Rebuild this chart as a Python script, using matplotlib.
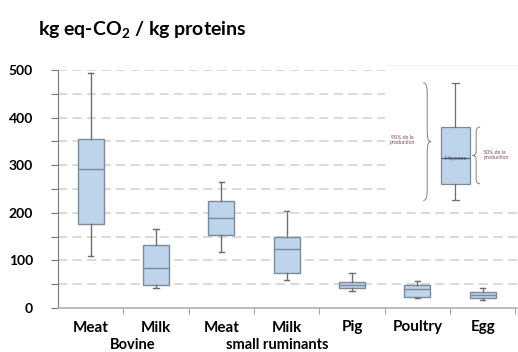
import numpy as np
import matplotlib
matplotlib.use("Agg")
import matplotlib.pyplot as plt
from matplotlib.path import Path
from matplotlib.patches import PathPatch, Rectangle

plt.rcParams['font.family'] = ['Lato', 'DejaVu Sans']
plt.rcParams['mathtext.fontset'] = 'custom'
plt.rcParams['mathtext.rm'] = 'Lato:bold'
plt.rcParams['mathtext.bf'] = 'Lato:bold'
plt.rcParams['mathtext.default'] = 'bf'

# ========================
# DATA (kg eq-CO2 / kg proteins)
# ========================
categories = ["Meat", "Milk", "Meat", "Milk", "Pig", "Poultry", "Egg"]
groups = ["Bovine", "small ruminants"]
whis_low = [110, 43, 117, 58, 36, 20, 16]
q1 = [176, 49, 154, 74, 43, 23, 21]
median = [293, 83, 189, 123, 48, 39, 28]
q3 = [355, 132, 225, 149, 54, 48, 34]
whis_high = [493, 167, 265, 203, 73, 57, 43]

# example box of the legend inset
legend_box = {"whislo": 226, "q1": 261, "med": 315, "q3": 380, "whishi": 473}

BOX_FACE = "#bdd4ea"
BOX_EDGE = "#7d8a99"
WHISKER = "#6e6e6e"
GRID = "#cfcfcf"


def brace(ax, x, y0, y1, width, facing="left", color="#808080"):
    """Curly brace between y0 and y1, tip pointing left or right."""
    s = -1 if facing == "left" else 1
    ym = (y0 + y1) / 2
    h = (y1 - y0)
    w = width
    verts = [
        (x + s * w, y0),
        (x, y0), (x, y0 + 0.05 * h), (x, y0 + 0.12 * h),
        (x, ym - 0.12 * h),
        (x, ym - 0.02 * h), (x - s * 0.2 * w, ym), (x - s * w, ym),
        (x - s * 0.2 * w, ym), (x, ym + 0.02 * h), (x, ym + 0.12 * h),
        (x, y1 - 0.12 * h),
        (x, y1 - 0.05 * h), (x, y1), (x + s * w, y1),
    ]
    codes = [Path.MOVETO,
             Path.CURVE4, Path.CURVE4, Path.CURVE4,
             Path.LINETO,
             Path.CURVE4, Path.CURVE4, Path.CURVE4,
             Path.CURVE4, Path.CURVE4, Path.CURVE4,
             Path.LINETO,
             Path.CURVE4, Path.CURVE4, Path.CURVE4]
    ax.add_patch(PathPatch(Path(verts, codes), fill=False, edgecolor=color,
                           lw=0.7, zorder=6, clip_on=False))


fig = plt.figure(figsize=(5.18, 3.52), dpi=100)
ax = fig.add_axes([58 / 518, 44 / 352, 460 / 518, 238 / 352])

stats = []
for i, cat in enumerate(categories):
    stats.append({"whislo": whis_low[i], "q1": q1[i], "med": median[i],
                  "q3": q3[i], "whishi": whis_high[i], "label": cat})

ax.bxp(stats, positions=np.arange(len(categories)), widths=0.4,
       showfliers=False, patch_artist=True,
       boxprops=dict(facecolor=BOX_FACE, edgecolor=BOX_EDGE, lw=1.0),
       medianprops=dict(color=BOX_EDGE, lw=1.0),
       whiskerprops=dict(color=WHISKER, lw=1.0),
       capprops=dict(color=WHISKER, lw=1.0), capwidths=0.08,
       zorder=5)

# axes / grid
ax.set_xlim(-0.5, 6.54)
ax.set_ylim(0, 500)
for y in np.arange(50, 501, 50):
    ax.axhline(y, color=GRID, lw=1.1, ls=(0, (6, 3.5)), zorder=1)

for side in ["top", "right"]:
    ax.spines[side].set_visible(False)
ax.spines["left"].set_color("#7a7a7a")
ax.spines["bottom"].set_color("#b0b0b0")
ax.spines["bottom"].set_linewidth(1.2)

ax.set_yticks(np.arange(0, 501, 50))
ax.set_yticklabels([str(v) if v % 100 == 0 else "" for v in range(0, 501, 50)],
                   fontsize=10, fontweight="bold")
ax.tick_params(axis="y", length=5, color="#7a7a7a", pad=13)

ax.set_xticks(np.arange(len(categories)))
ax.set_xticklabels(categories, fontsize=11, fontweight="bold")
ax.tick_params(axis="x", length=0, pad=9)
ax.set_xticks(np.arange(0.5, 6.6, 1), minor=True)
ax.tick_params(axis="x", which="minor", length=4, color="#909090")

# group labels under the categories
ax.text(0.65, -0.125, groups[0], transform=ax.get_xaxis_transform(),
        ha="center", va="top", fontsize=10.5, fontweight="bold")
ax.text(2.85, -0.125, groups[1], transform=ax.get_xaxis_transform(),
        ha="center", va="top", fontsize=10.5, fontweight="bold")

# title
fig.text(38 / 518, 1 - 30 / 352, r"kg eq-CO$_2$ / kg proteins",
         fontsize=14, fontweight="bold", va="center", ha="left")

# legend inset (white panel covering the grid)
ax.add_patch(Rectangle((4.51, 217), 2.2, 296, facecolor="white",
                       edgecolor="none", zorder=3, clip_on=False))
ax.plot([4.53, 6.6], [510, 510], color="#f0f0f0", lw=0.8, zorder=3,
        clip_on=False)
lb = dict(legend_box, label="")
ax.bxp([lb], positions=[5.58], widths=0.44, showfliers=False,
       patch_artist=True, manage_ticks=False,
       boxprops=dict(facecolor=BOX_FACE, edgecolor=BOX_EDGE, lw=0.9),
       medianprops=dict(color="#4d5a6a", lw=0.9),
       whiskerprops=dict(color=WHISKER, lw=0.9),
       capprops=dict(color=WHISKER, lw=0.9), capwidths=0.1, zorder=5)
ax.text(5.58, legend_box["med"], "Moyenne", ha="center", va="center",
        fontsize=3.8, color="#5a4a5a", zorder=7)
brace(ax, 5.15, legend_box["whislo"], legend_box["whishi"], 0.06, "left")
brace(ax, 5.90, legend_box["q1"], legend_box["q3"], 0.06, "right")
ax.text(4.77, 353, "90% de la\nproduction", ha="center", va="center",
        fontsize=3.8, color="#7a4a4a", linespacing=1.0, zorder=7)
ax.text(6.01, 322, "50% de la\nproduction", ha="left", va="center",
        fontsize=3.8, color="#7a4a4a", linespacing=1.0, zorder=7,
        clip_on=False)

fig.savefig("out.png", dpi=100)
